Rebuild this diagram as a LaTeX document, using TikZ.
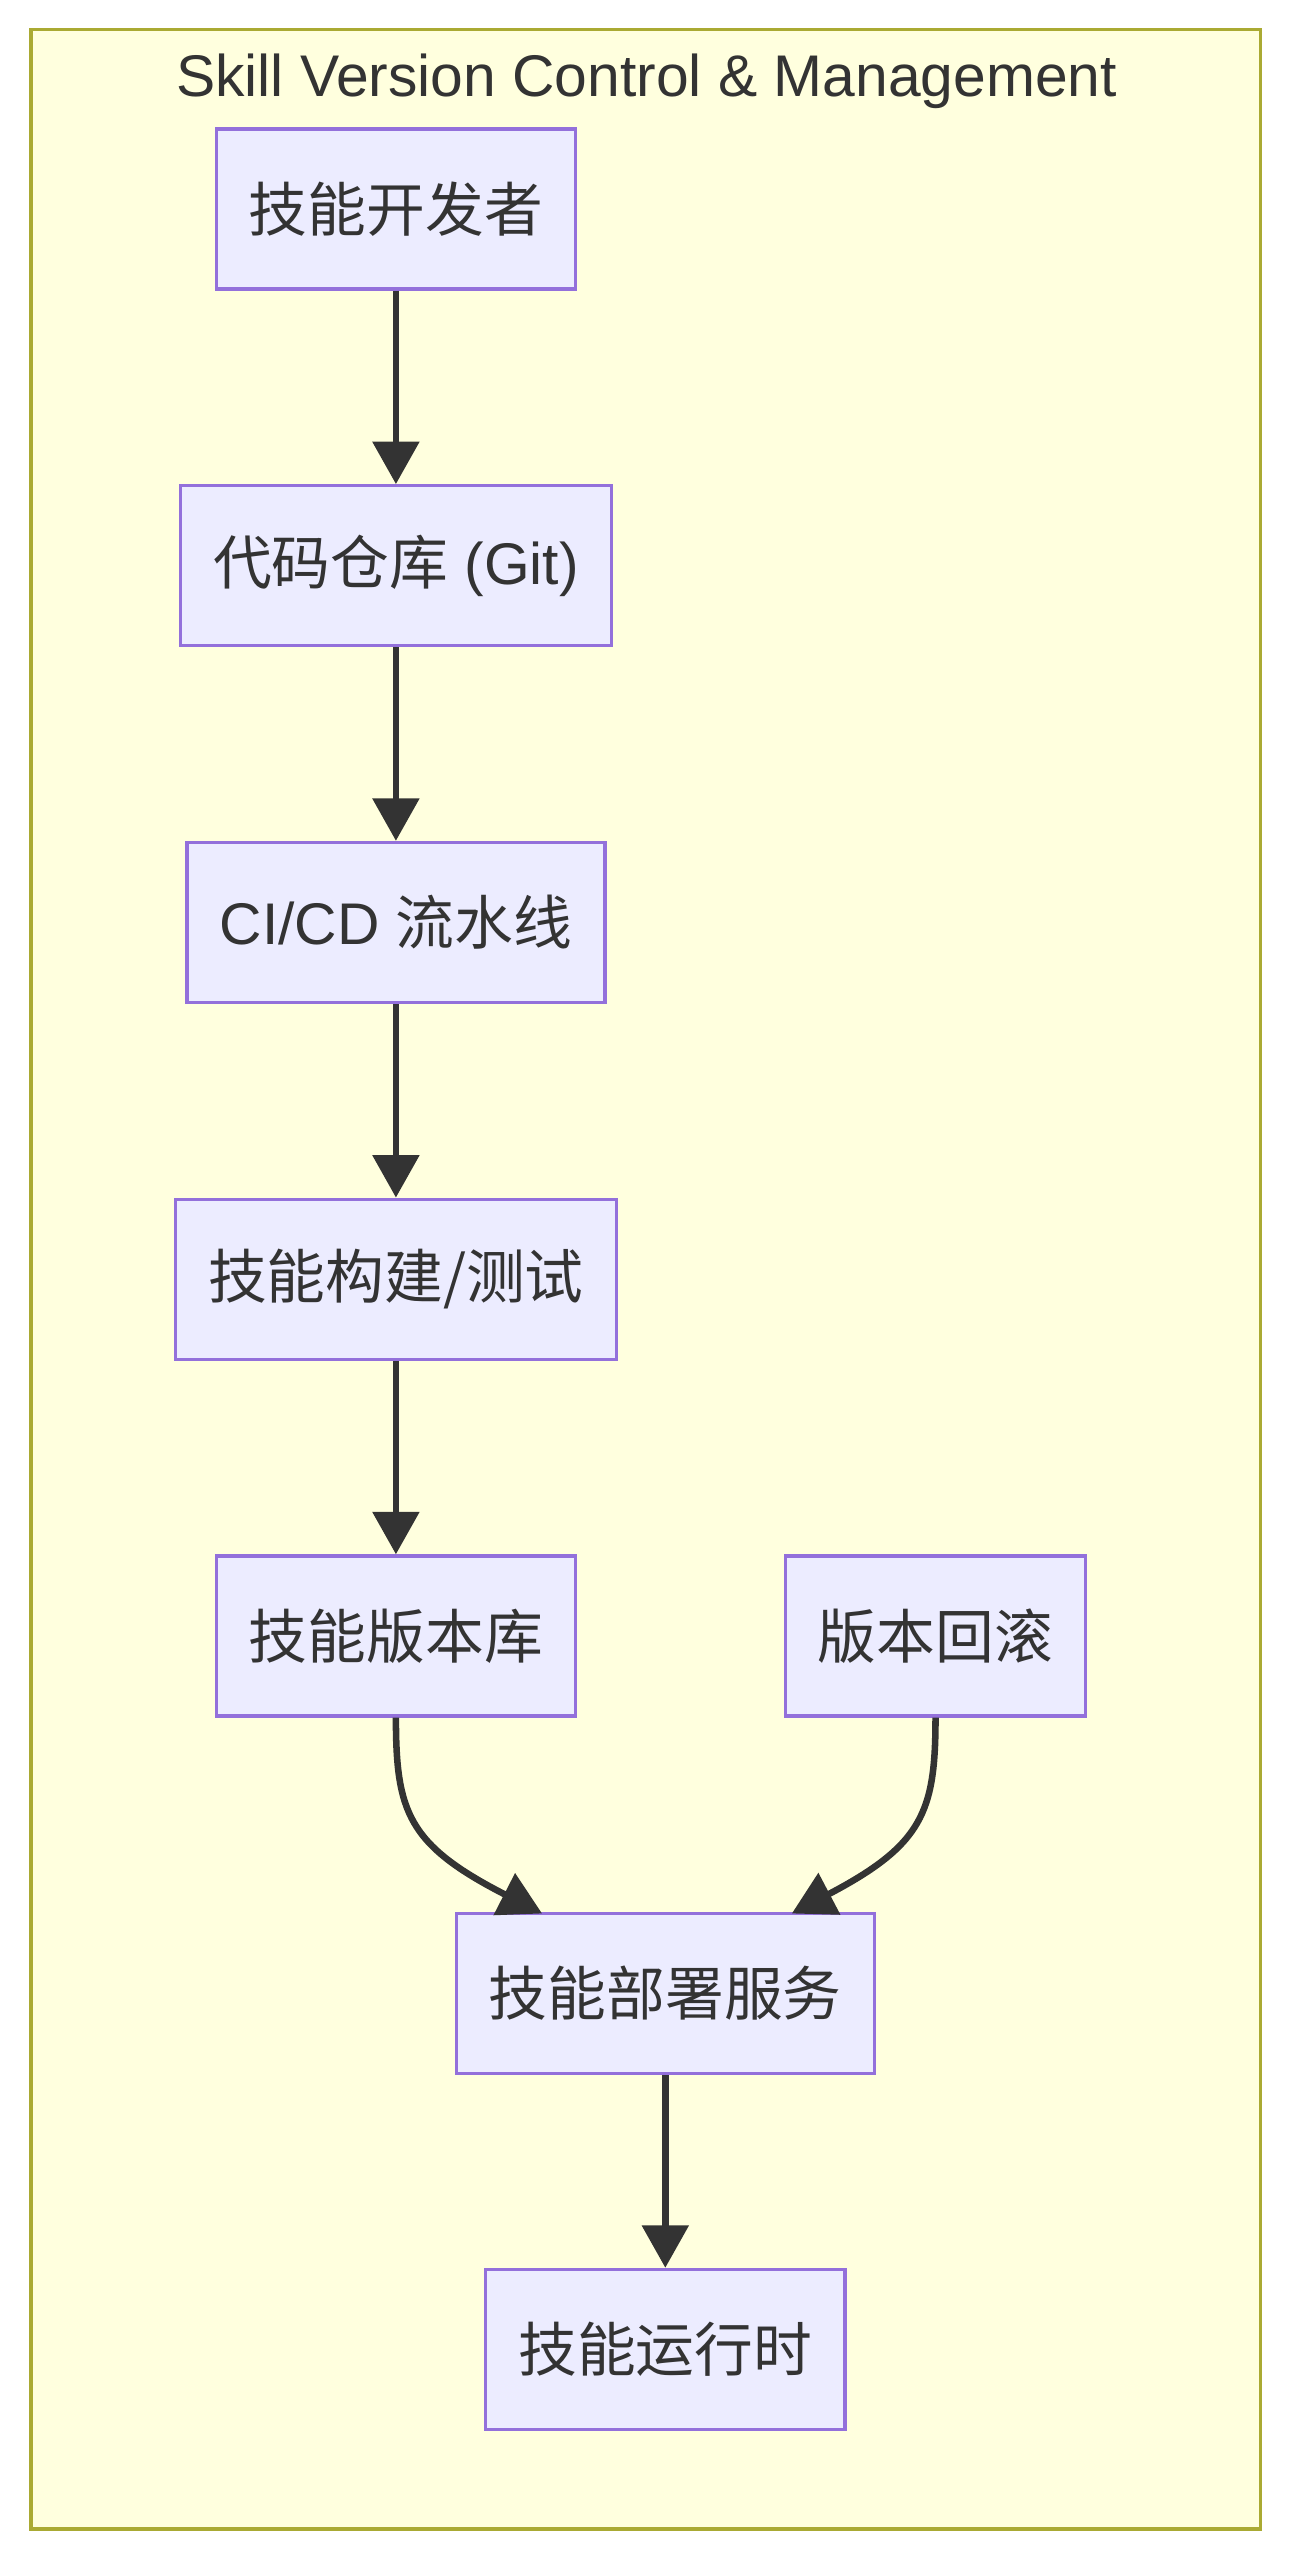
\documentclass[tikz,border=0pt]{standalone}
\usepackage{fontspec}
\setmainfont{Liberation Sans}
\newfontfamily\cjk{Noto Sans CJK SC}
\usetikzlibrary{arrows.meta}
\definecolor{frameFill}{HTML}{FFFFDE}
\definecolor{frameLine}{HTML}{AAAA33}
\definecolor{boxFill}{HTML}{ECECFF}
\definecolor{boxLine}{HTML}{9370DB}
\definecolor{linkCol}{HTML}{333333}
\tikzset{
  box/.style={draw=boxLine,fill=boxFill,line width=2pt,minimum height=98pt,inner xsep=20pt,font=\fontsize{36}{40}\selectfont,text=linkCol},
  link/.style={draw=linkCol,line width=4pt,-{Triangle[length=26pt,width=28pt]}}
}
\begin{document}
\begin{tikzpicture}[x=1pt,y=1pt,yscale=-1,xscale=1]
\useasboundingbox (0,0) rectangle (792,1568);

%Shape: Frame
\draw [draw=frameLine,fill=frameFill,line width=2pt] (19,18) rectangle (772,1549);
% Text Node
\node [text=linkCol,font=\fontsize{36}{40}\selectfont] (title) at (396,50) {Skill Version Control \& Management};

% Nodes
\node [box] (dev) at (242.5,128) {\cjk 技能开发者};
\node [box] (repo) at (242.5,346.5) {{\cjk 代码仓库} (Git)};
\node [box] (cicd) at (242.5,565) {CI/CD {\cjk 流水线}};
\node [box] (build) at (242.5,783.5) {\cjk 技能构建/测试};
\node [box] (store) at (242.5,1002) {\cjk 技能版本库};
\node [box] (rollback) at (573,1002) {\cjk 版本回滚};
\node [box] (deploy) at (407.5,1221) {\cjk 技能部署服务};
\node [box] (runtime) at (407.5,1439) {\cjk 技能运行时};

% Links
\draw [link] (dev) -- (repo);
\draw [link] (repo) -- (cicd);
\draw [link] (cicd) -- (build);
\draw [link] (build) -- (store);
\draw [link] (store.south) .. controls (242.5,1110) and (250,1130) .. (332,1172);
\draw [link] (rollback.south) .. controls (573,1110) and (565,1130) .. (485,1172);
\draw [link] (deploy) -- (runtime);

\end{tikzpicture}
\end{document}
